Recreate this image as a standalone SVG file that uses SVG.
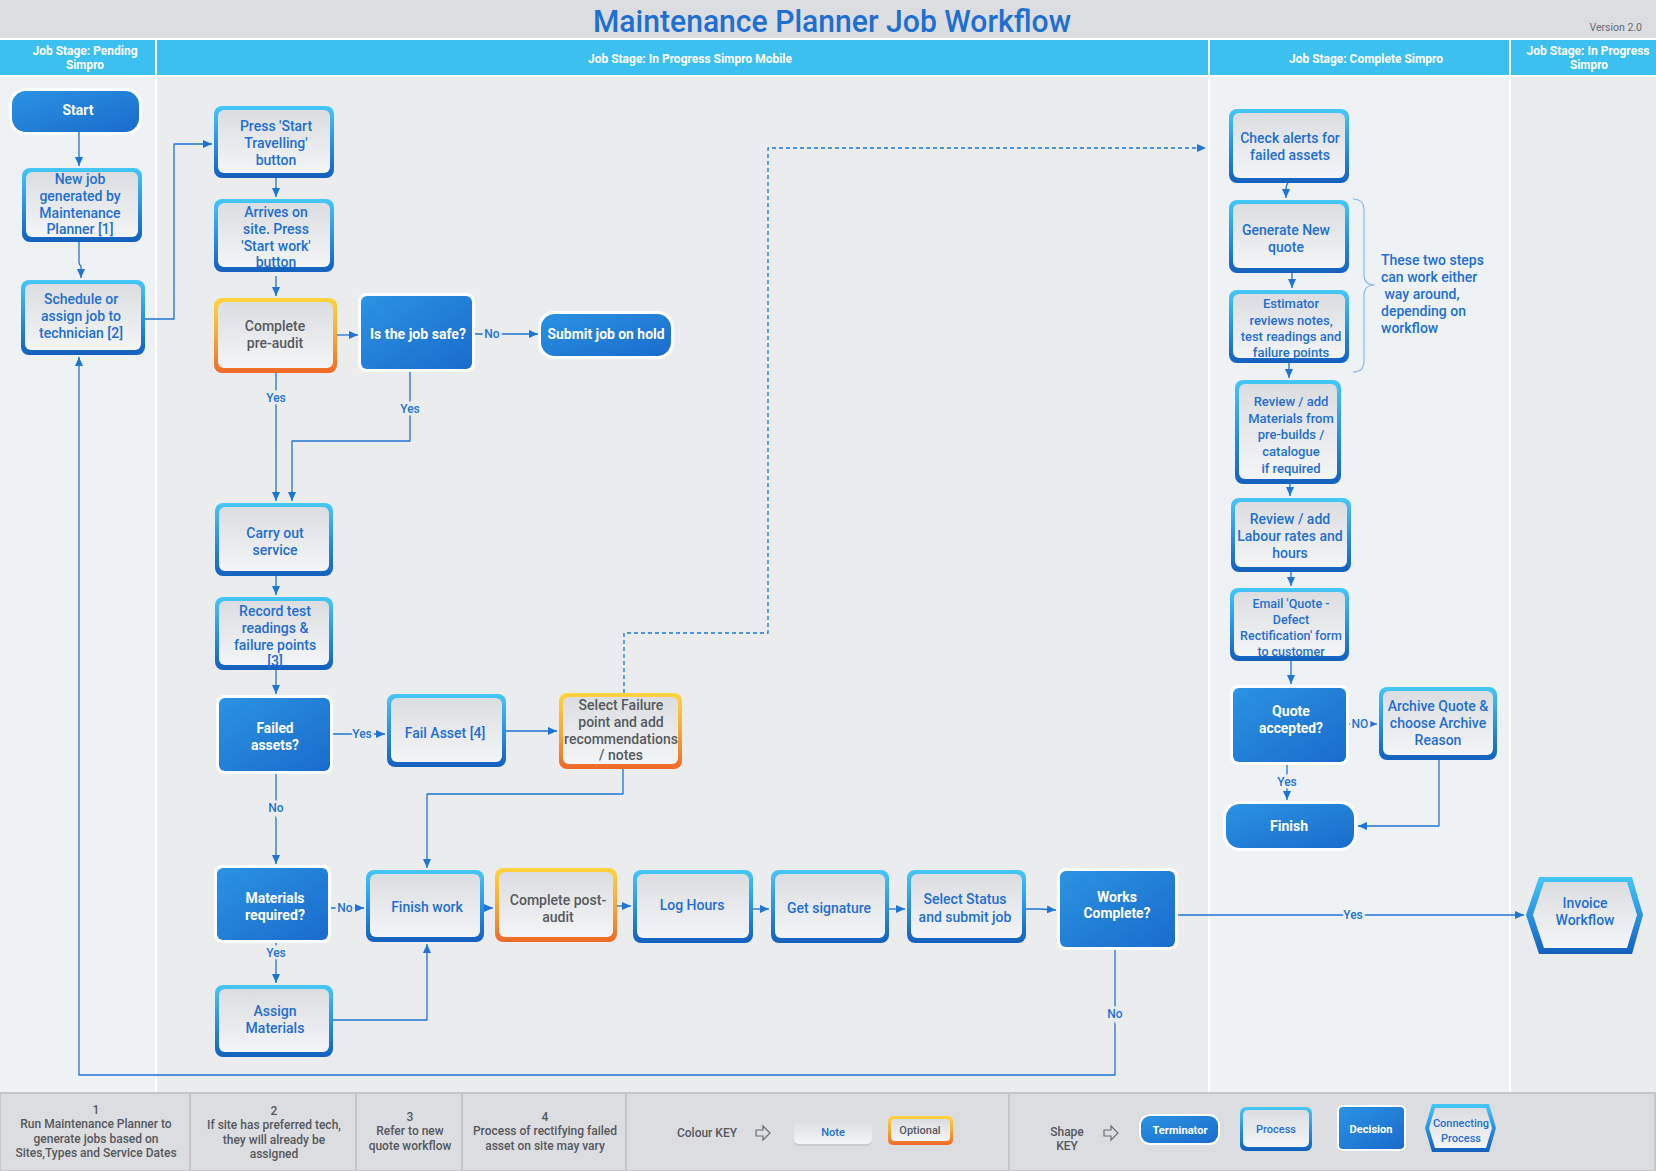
<svg xmlns="http://www.w3.org/2000/svg" width="1656" height="1171" viewBox="0 0 1656 1171">
<defs>
<linearGradient id="gB" x1="0" y1="0" x2="0" y2="1"><stop offset="0" stop-color="#45c8f6"/><stop offset="0.5" stop-color="#2a93e0"/><stop offset="1" stop-color="#1560bd"/></linearGradient>
<linearGradient id="gO" x1="0" y1="0" x2="0" y2="1"><stop offset="0" stop-color="#ffd43e"/><stop offset="0.5" stop-color="#f8a934"/><stop offset="1" stop-color="#ef6a29"/></linearGradient>
<linearGradient id="gP" x1="0" y1="0" x2="0" y2="1"><stop offset="0" stop-color="#dcdde0"/><stop offset="1" stop-color="#f4f5f7"/></linearGradient>
<linearGradient id="gD" x1="0" y1="0" x2="1" y2="1"><stop offset="0" stop-color="#2b93e2"/><stop offset="1" stop-color="#1a6bcc"/></linearGradient>
<marker id="ar" markerUnits="userSpaceOnUse" markerWidth="10" markerHeight="10" refX="9" refY="4" orient="auto"><path d="M0,0 L9,4 L0,8 z" fill="#1f74d4"/></marker>
<style>
.pb{fill:url(#gB)}
.ob{fill:url(#gO)}
.pp{fill:url(#gP)}
.halo{fill:#fbfdff}
.df{fill:url(#gD)}
.t{font-family:Roboto,"Liberation Sans",sans-serif;font-weight:500;font-size:14px;fill:#1f6fd0;text-anchor:middle}
.ts{font-size:13px}
.tg{fill:#555a60}
.tw{font-family:Roboto,"Liberation Sans",sans-serif;font-weight:700;font-size:14px;fill:#ffffff;text-anchor:middle}
.hd{font-family:Roboto,"Liberation Sans",sans-serif;font-weight:700;font-size:12px;fill:#ffffff;text-anchor:middle}
.conn{fill:none;stroke:#1f74d4;stroke-width:1.3;stroke-linejoin:round}
.dash{stroke-dasharray:4 3}
.lbl{font-family:Roboto,"Liberation Sans",sans-serif;font-weight:500;font-size:12px;fill:#1f74d4;text-anchor:middle;paint-order:stroke;stroke:#ebecee;stroke-width:5px}
.l3{stroke:#eef2f5}
.ft{font-family:Roboto,"Liberation Sans",sans-serif;font-weight:500;font-size:12px;fill:#55585d;text-anchor:middle}
.cell{fill:#dcdde0;stroke:#c5c6c9;stroke-width:2}
</style>
</defs>

<g id="background">
<rect x="0" y="0" width="1656" height="1171" fill="#ebecee"/>
<rect x="0" y="0" width="1656" height="39" fill="#dcdde0"/>
<rect x="0" y="39" width="1656" height="37" fill="#3cc0f0"/>
<rect x="0" y="76" width="156" height="1017" fill="#eef2f5"/>
<rect x="156" y="76" width="1053" height="1017" fill="#ebecee"/>
<rect x="1209" y="76" width="301" height="1017" fill="#eef2f5"/>
<rect x="1510" y="76" width="146" height="1017" fill="#ebecee"/>
<g stroke="#ffffff" stroke-width="2">
<line x1="0" y1="39" x2="1656" y2="39"/>
<line x1="0" y1="76" x2="1656" y2="76"/>
<line x1="156" y1="39" x2="156" y2="1093"/>
<line x1="1209" y1="39" x2="1209" y2="1093"/>
<line x1="1510" y1="39" x2="1510" y2="1093"/>
</g>
<text x="832" y="32" font-family="Roboto,'Liberation Sans',sans-serif" font-weight="500" font-size="31" fill="#1f6fd0" text-anchor="middle" textLength="478" lengthAdjust="spacingAndGlyphs">Maintenance Planner Job Workflow</text>
<text x="1642" y="31" font-family="Roboto,'Liberation Sans',sans-serif" font-size="10.5" fill="#666a70" text-anchor="end">Version 2.0</text>
<text class="hd" x="85" y="55" textLength="105" lengthAdjust="spacingAndGlyphs">Job Stage: Pending</text>
<text class="hd" x="85" y="69" textLength="38" lengthAdjust="spacingAndGlyphs">Simpro</text>
<text class="hd" x="690" y="63" textLength="204" lengthAdjust="spacingAndGlyphs">Job Stage: In Progress Simpro Mobile</text>
<text class="hd" x="1366" y="63" textLength="154" lengthAdjust="spacingAndGlyphs">Job Stage: Complete Simpro</text>
<text class="hd" x="1588" y="55" textLength="123" lengthAdjust="spacingAndGlyphs">Job Stage: In Progress</text>
<text class="hd" x="1589" y="69" textLength="38" lengthAdjust="spacingAndGlyphs">Simpro</text>
</g>

<g id="node-start"><rect class="halo" x="9" y="88" width="133" height="47" rx="16"/><rect class="df" x="12" y="91" width="127" height="41" rx="14"/><text class="tw" x="78" y="115" textLength="31" lengthAdjust="spacingAndGlyphs">Start</text></g>

<g id="node-new-job"><rect class="pb" x="22" y="168" width="120" height="74" rx="8"/><rect class="pp" x="26" y="172" width="112" height="65" rx="6"/><text class="t"><tspan x="80" y="184">New job</tspan><tspan x="80" y="201">generated by</tspan><tspan x="80" y="218">Maintenance</tspan><tspan x="80" y="234">Planner [1]</tspan></text></g>

<g id="node-schedule"><rect class="pb" x="21" y="280" width="124" height="75" rx="8"/><rect class="pp" x="25" y="284" width="116" height="66" rx="6"/><text class="t"><tspan x="81" y="304">Schedule or</tspan><tspan x="81" y="321">assign job to</tspan><tspan x="81" y="338">technician [2]</tspan></text></g>

<g id="node-press-start"><rect class="pb" x="214" y="106" width="120" height="72" rx="8"/><rect class="pp" x="218" y="110" width="112" height="63" rx="6"/><text class="t"><tspan x="276" y="131">Press 'Start</tspan><tspan x="276" y="148">Travelling'</tspan><tspan x="276" y="165">button</tspan></text></g>

<g id="node-arrives"><rect class="pb" x="214" y="199" width="120" height="73" rx="8"/><rect class="pp" x="218" y="203" width="112" height="64" rx="6"/><text class="t"><tspan x="276" y="217">Arrives on</tspan><tspan x="276" y="234">site. Press</tspan><tspan x="276" y="251">'Start work'</tspan><tspan x="276" y="267">button</tspan></text></g>

<g id="node-pre-audit"><rect class="ob" x="214" y="298" width="123" height="75" rx="8"/><rect class="pp" x="218" y="302" width="115" height="66" rx="6"/><text class="t tg"><tspan x="275" y="331">Complete</tspan><tspan x="275" y="348">pre-audit</tspan></text></g>

<g id="node-job-safe"><rect class="halo" x="358" y="293" width="117" height="79" rx="8"/><rect class="df" x="361" y="296" width="111" height="73" rx="6"/><text class="tw" x="418" y="339" textLength="96" lengthAdjust="spacingAndGlyphs">Is the job safe?</text></g>

<g id="node-submit-hold"><rect class="halo" x="538" y="311" width="136" height="48" rx="16"/><rect class="df" x="541" y="314" width="130" height="42" rx="14"/><text class="tw" x="606" y="339" textLength="117" lengthAdjust="spacingAndGlyphs">Submit job on hold</text></g>

<g id="node-carry-out"><rect class="pb" x="215" y="503" width="118" height="73" rx="8"/><rect class="pp" x="219" y="507" width="110" height="64" rx="6"/><text class="t"><tspan x="275" y="538">Carry out</tspan><tspan x="275" y="555">service</tspan></text></g>

<g id="node-record-test"><rect class="pb" x="215" y="597" width="118" height="73" rx="8"/><rect class="pp" x="219" y="601" width="110" height="64" rx="6"/><text class="t"><tspan x="275" y="616">Record test</tspan><tspan x="275" y="633">readings &amp;</tspan><tspan x="275" y="650">failure points</tspan><tspan x="275" y="666">[3]</tspan></text></g>

<g id="node-failed-assets"><rect class="halo" x="216" y="695" width="117" height="79" rx="8"/><rect class="df" x="219" y="698" width="111" height="73" rx="6"/><text class="tw"><tspan x="275" y="733" textLength="37" lengthAdjust="spacingAndGlyphs">Failed</tspan><tspan x="275" y="750" textLength="48" lengthAdjust="spacingAndGlyphs">assets?</tspan></text></g>

<g id="node-fail-asset"><rect class="pb" x="387" y="694" width="119" height="73" rx="8"/><rect class="pp" x="391" y="698" width="111" height="64" rx="6"/><text class="t" x="445" y="738">Fail Asset [4]</text></g>

<g id="node-select-failure"><rect class="ob" x="559" y="693" width="123" height="76" rx="8"/><rect class="pp" x="563" y="697" width="115" height="67" rx="6"/><text class="t tg"><tspan x="621" y="710">Select Failure</tspan><tspan x="621" y="727">point and add</tspan><tspan x="621" y="744">recommendations</tspan><tspan x="621" y="760">/ notes</tspan></text></g>

<g id="node-materials"><rect class="halo" x="214" y="865" width="117" height="78" rx="8"/><rect class="df" x="217" y="868" width="111" height="72" rx="6"/><text class="tw"><tspan x="275" y="903" textLength="59" lengthAdjust="spacingAndGlyphs">Materials</tspan><tspan x="275" y="920" textLength="60" lengthAdjust="spacingAndGlyphs">required?</tspan></text></g>

<g id="node-assign-materials"><rect class="pb" x="215" y="985" width="118" height="72" rx="8"/><rect class="pp" x="219" y="989" width="110" height="63" rx="6"/><text class="t"><tspan x="275" y="1016">Assign</tspan><tspan x="275" y="1033">Materials</tspan></text></g>

<g id="node-finish-work"><rect class="pb" x="366" y="870" width="118" height="72" rx="8"/><rect class="pp" x="370" y="874" width="110" height="63" rx="6"/><text class="t" x="427" y="912">Finish work</text></g>

<g id="node-post-audit"><rect class="ob" x="495" y="868" width="122" height="74" rx="8"/><rect class="pp" x="499" y="872" width="114" height="65" rx="6"/><text class="t tg"><tspan x="558" y="905">Complete post-</tspan><tspan x="558" y="922">audit</tspan></text></g>

<g id="node-log-hours"><rect class="pb" x="633" y="870" width="120" height="73" rx="8"/><rect class="pp" x="637" y="874" width="112" height="64" rx="6"/><text class="t" x="692" y="910">Log Hours</text></g>

<g id="node-get-signature"><rect class="pb" x="771" y="870" width="118" height="73" rx="8"/><rect class="pp" x="775" y="874" width="110" height="64" rx="6"/><text class="t" x="829" y="913">Get signature</text></g>

<g id="node-select-status"><rect class="pb" x="907" y="870" width="119" height="73" rx="8"/><rect class="pp" x="911" y="874" width="111" height="64" rx="6"/><text class="t"><tspan x="965" y="904">Select Status</tspan><tspan x="965" y="922">and submit job</tspan></text></g>

<g id="node-works-complete"><rect class="halo" x="1057" y="868" width="121" height="82" rx="8"/><rect class="df" x="1060" y="871" width="115" height="76" rx="6"/><text class="tw"><tspan x="1117" y="902" textLength="40" lengthAdjust="spacingAndGlyphs">Works</tspan><tspan x="1117" y="918" textLength="67" lengthAdjust="spacingAndGlyphs">Complete?</tspan></text></g>

<g id="node-invoice"><polygon class="pb" points="1526,915 1539,877 1632,877 1643,915 1632,954 1539,954"/><polygon class="pp" points="1533,915 1544,882 1627,882 1637,915 1627,948 1544,948"/><text class="t"><tspan x="1585" y="908">Invoice</tspan><tspan x="1585" y="925">Workflow</tspan></text></g>

<g id="node-check-alerts"><rect class="pb" x="1229" y="109" width="120" height="74" rx="8"/><rect class="pp" x="1233" y="113" width="112" height="65" rx="6"/><text class="t"><tspan x="1290" y="143">Check alerts for</tspan><tspan x="1290" y="160">failed assets</tspan></text></g>

<g id="node-generate-quote"><rect class="pb" x="1229" y="200" width="120" height="73" rx="8"/><rect class="pp" x="1233" y="204" width="112" height="64" rx="6"/><text class="t"><tspan x="1286" y="235">Generate New</tspan><tspan x="1286" y="252">quote</tspan></text></g>

<g id="node-estimator"><rect class="pb" x="1229" y="290" width="120" height="73" rx="8"/><rect class="pp" x="1233" y="294" width="112" height="64" rx="6"/><text class="t ts"><tspan x="1291" y="308">Estimator</tspan><tspan x="1291" y="325">reviews notes,</tspan><tspan x="1291" y="341">test readings and</tspan><tspan x="1291" y="357">failure points</tspan></text></g>

<g id="note-two-steps"><path d="M1353,199 Q1364,199 1364,210 L1364,275 Q1364,285 1375,285 Q1364,285 1364,295 L1364,361 Q1364,372 1353,372" fill="none" stroke="#8fbbe8" stroke-width="1.2"/><text class="t" style="text-anchor:start"><tspan x="1381" y="265">These two steps</tspan><tspan x="1381" y="282">can work either</tspan><tspan x="1381" y="299"> way around,</tspan><tspan x="1381" y="316">depending on</tspan><tspan x="1381" y="333">workflow</tspan></text></g>

<g id="node-review-materials"><rect class="pb" x="1235" y="380" width="106" height="104" rx="8"/><rect class="pp" x="1239" y="384" width="98" height="95" rx="6"/><text class="t ts"><tspan x="1291" y="406">Review / add</tspan><tspan x="1291" y="423">Materials from</tspan><tspan x="1291" y="439">pre-builds /</tspan><tspan x="1291" y="456">catalogue</tspan><tspan x="1291" y="473">if required</tspan></text></g>

<g id="node-review-labour"><rect class="pb" x="1231" y="498" width="120" height="74" rx="8"/><rect class="pp" x="1235" y="502" width="112" height="65" rx="6"/><text class="t"><tspan x="1290" y="524">Review / add</tspan><tspan x="1290" y="541">Labour rates and</tspan><tspan x="1290" y="558">hours</tspan></text></g>

<g id="node-email"><rect class="pb" x="1230" y="588" width="119" height="73" rx="8"/><rect class="pp" x="1234" y="592" width="111" height="64" rx="6"/><text class="t" style="font-size:12.5px"><tspan x="1291" y="608">Email 'Quote -</tspan><tspan x="1291" y="624">Defect</tspan><tspan x="1291" y="640">Rectification' form</tspan><tspan x="1291" y="656">to customer</tspan></text></g>

<g id="node-quote-accepted"><rect class="halo" x="1230" y="685" width="119" height="80" rx="8"/><rect class="df" x="1233" y="688" width="113" height="74" rx="6"/><text class="tw"><tspan x="1291" y="716" textLength="38" lengthAdjust="spacingAndGlyphs">Quote</tspan><tspan x="1291" y="733" textLength="64" lengthAdjust="spacingAndGlyphs">accepted?</tspan></text></g>

<g id="node-archive"><rect class="pb" x="1379" y="687" width="118" height="73" rx="8"/><rect class="pp" x="1383" y="691" width="110" height="64" rx="6"/><text class="t"><tspan x="1438" y="711">Archive Quote &amp;</tspan><tspan x="1438" y="728">choose Archive</tspan><tspan x="1438" y="745">Reason</tspan></text></g>

<g id="node-finish"><rect class="halo" x="1223" y="801" width="134" height="50" rx="16"/><rect class="df" x="1226" y="804" width="128" height="44" rx="14"/><text class="tw" x="1289" y="831" textLength="38" lengthAdjust="spacingAndGlyphs">Finish</text></g>

<g id="connectors">
<path class="conn" marker-end="url(#ar)" d="M79,132 L79,166"/>
<path class="conn" marker-end="url(#ar)" d="M79,242 L79,262 Q79,265 81,266 L81,278"/>
<path class="conn" marker-end="url(#ar)" d="M145,319 L174,319 L174,144 L212,144"/>
<path class="conn" marker-end="url(#ar)" d="M276,178 L276,197"/>
<path class="conn" marker-end="url(#ar)" d="M276,276 L276,296"/>
<path class="conn" marker-end="url(#ar)" d="M337,335 L358,335"/>
<path class="conn" marker-end="url(#ar)" d="M475,334 L538,334"/>
<path class="conn" marker-end="url(#ar)" d="M410,372 L410,441 L292,441 L292,501"/>
<path class="conn" marker-end="url(#ar)" d="M276,373 L276,501"/>
<path class="conn" marker-end="url(#ar)" d="M276,576 L276,595"/>
<path class="conn" marker-end="url(#ar)" d="M276,670 L276,694"/>
<path class="conn" marker-end="url(#ar)" d="M333,734 L385,734"/>
<path class="conn" marker-end="url(#ar)" d="M506,731 L557,731"/>
<path class="conn dash" marker-end="url(#ar)" d="M624,693 L624,633 L768,633 L768,148 L1206,148"/>
<path class="conn" marker-end="url(#ar)" d="M623,769 L623,794 L427,794 L427,868"/>
<path class="conn" marker-end="url(#ar)" d="M276,774 L276,864"/>
<path class="conn" marker-end="url(#ar)" d="M331,908 L364,908"/>
<path class="conn" marker-end="url(#ar)" d="M276,943 L276,983"/>
<path class="conn" marker-end="url(#ar)" d="M333,1020 L427,1020 L427,944"/>
<path class="conn" marker-end="url(#ar)" d="M484,908 L493,908"/>
<path class="conn" marker-end="url(#ar)" d="M617,906 L631,906"/>
<path class="conn" marker-end="url(#ar)" d="M753,909 L769,909"/>
<path class="conn" marker-end="url(#ar)" d="M889,909 L905,909"/>
<path class="conn" marker-end="url(#ar)" d="M1026,909 L1040,909 L1056,910"/>
<path class="conn" marker-end="url(#ar)" d="M1178,915 L1524,915"/>
<path class="conn" marker-end="url(#ar)" d="M1115,950 L1115,1075 L79,1075 L79,357"/>
<path class="conn" marker-end="url(#ar)" d="M1288,183 Q1286,185 1286,190 L1286,198"/>
<path class="conn" marker-end="url(#ar)" d="M1292,273 L1292,288"/>
<path class="conn" marker-end="url(#ar)" d="M1289,363 L1289,378"/>
<path class="conn" marker-end="url(#ar)" d="M1290,484 L1290,496"/>
<path class="conn" marker-end="url(#ar)" d="M1291,572 L1291,586"/>
<path class="conn" marker-end="url(#ar)" d="M1291,661 L1291,684"/>
<path class="conn" marker-end="url(#ar)" d="M1349,724 L1377,724"/>
<path class="conn" marker-end="url(#ar)" d="M1287,765 L1287,800"/>
<path class="conn" marker-end="url(#ar)" d="M1439,760 L1439,826 L1358,826"/>
<text class="lbl" x="492" y="338">No</text>
<text class="lbl" x="410" y="413">Yes</text>
<text class="lbl" x="276" y="402">Yes</text>
<text class="lbl" x="362" y="738">Yes</text>
<text class="lbl" x="276" y="812">No</text>
<text class="lbl" x="345" y="912">No</text>
<text class="lbl" x="276" y="957">Yes</text>
<text class="lbl l3" x="1353" y="919">Yes</text>
<text class="lbl" x="1115" y="1018">No</text>
<text class="lbl l3" x="1360" y="728">NO</text>
<text class="lbl l3" x="1287" y="786">Yes</text>
</g>

<g id="footer">
<rect class="cell" x="0" y="1093" width="190" height="78"/>
<rect class="cell" x="190" y="1093" width="166" height="78"/>
<rect class="cell" x="356" y="1093" width="106" height="78"/>
<rect class="cell" x="462" y="1093" width="164" height="78"/>
<rect class="cell" x="626" y="1093" width="383" height="78"/>
<rect class="cell" x="1009" y="1093" width="646" height="78"/>
<text class="ft"><tspan x="96" y="1114">1</tspan><tspan x="96" y="1128">Run Maintenance Planner to</tspan><tspan x="96" y="1143">generate jobs based on</tspan><tspan x="96" y="1157">Sites,Types and Service Dates</tspan></text>
<text class="ft"><tspan x="274" y="1115">2</tspan><tspan x="274" y="1129">If site has preferred tech,</tspan><tspan x="274" y="1144">they will already be</tspan><tspan x="274" y="1158">assigned</tspan></text>
<text class="ft"><tspan x="410" y="1121">3</tspan><tspan x="410" y="1135">Refer to new</tspan><tspan x="410" y="1150">quote workflow</tspan></text>
<text class="ft"><tspan x="545" y="1121">4</tspan><tspan x="545" y="1135">Process of rectifying failed</tspan><tspan x="545" y="1150">asset on site may vary</tspan></text>
<text class="ft" x="707" y="1137">Colour KEY</text>
<polygon points="756,1130 763,1130 763,1126 770,1133 763,1140 763,1136 756,1136" fill="none" stroke="#6a6d72" stroke-width="1.2"/>
<g id="key-note"><rect x="794" y="1120" width="78" height="26" rx="5" fill="#c9cbce"/><rect x="794" y="1119" width="78" height="25" rx="5" fill="url(#gP)"/><text class="t" x="833" y="1136" style="font-size:11px">Note</text></g>
<g id="key-optional"><rect class="ob" x="888" y="1116" width="65" height="29" rx="5"/><rect class="pp" x="891" y="1119" width="59" height="22" rx="4"/><text class="t tg" x="920" y="1134" style="font-size:11px">Optional</text></g>
<text class="ft"><tspan x="1067" y="1136">Shape</tspan><tspan x="1067" y="1150">KEY</tspan></text>
<polygon points="1104,1130 1111,1130 1111,1126 1118,1133 1111,1140 1111,1136 1104,1136" fill="none" stroke="#6a6d72" stroke-width="1.2"/>
<g id="key-terminator"><rect class="halo" x="1139" y="1114" width="81" height="31" rx="11"/><rect class="df" x="1141" y="1116" width="77" height="27" rx="9"/><text class="tw" x="1180" y="1134" style="font-size:11px" textLength="55" lengthAdjust="spacingAndGlyphs">Terminator</text></g>
<g id="key-process"><rect class="pb" x="1240" y="1107" width="72" height="44" rx="6"/><rect class="pp" x="1243" y="1110" width="66" height="37" rx="5"/><text class="t" x="1276" y="1133" style="font-size:11px">Process</text></g>
<g id="key-decision"><rect class="halo" x="1337" y="1105" width="69" height="46" rx="5"/><rect class="df" x="1339" y="1107" width="65" height="42" rx="4"/><text class="tw" x="1371" y="1133" style="font-size:11px" textLength="43" lengthAdjust="spacingAndGlyphs">Decision</text></g>
<g id="key-connecting"><polygon class="pb" points="1425,1128 1432,1104 1489,1104 1496,1128 1489,1152 1432,1152"/><polygon class="pp" points="1429,1128 1435,1108 1486,1108 1492,1128 1486,1148 1435,1148"/><text class="t" style="font-size:11px"><tspan x="1461" y="1127">Connecting</tspan><tspan x="1461" y="1142">Process</tspan></text></g>
</g>
</svg>
